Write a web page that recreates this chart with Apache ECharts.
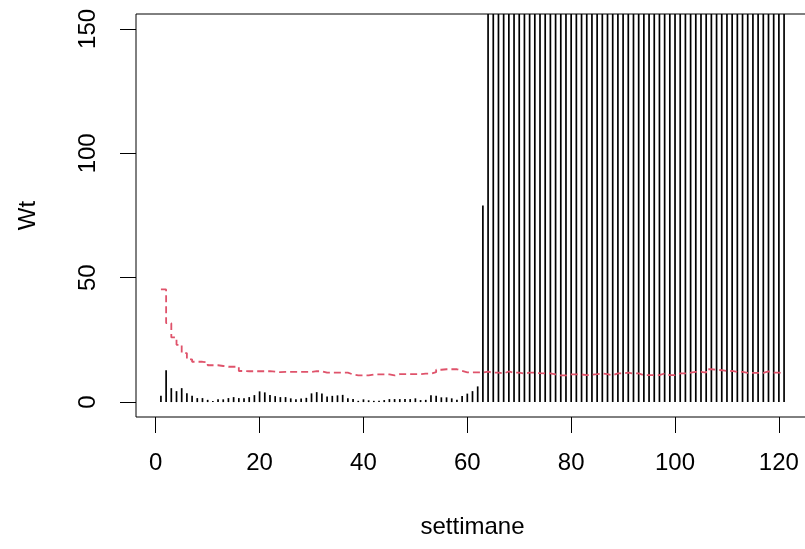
<!DOCTYPE html>
<html>
<head>
<meta charset="utf-8">
<script src="https://cdn.jsdelivr.net/npm/echarts@6/dist/echarts.min.js"></script>
<style>html,body{margin:0;padding:0;background:#fff;}#c{width:805px;height:549px;}</style>
</head>
<body>
<div id="c"></div>
<script>
// x positions: weeks 1..121
var weeks = [];
for (var k = 1; k <= 121; k++) weeks.push(k);

// Wt values (weeks 1..63; 64..121 run off the top of the plot)
var wt = [
  2.5, 12.8, 5.6, 4.4, 5.6, 3.5, 2.5, 1.6, 1.6, 0.9,
  0.4, 1.1, 1.1, 1.6, 2.0, 1.6, 1.5, 2.0, 2.8, 4.3,
  3.9, 2.8, 2.4, 2.0, 2.0, 1.5, 1.1, 1.4, 1.7, 3.5,
  4.0, 3.4, 2.2, 2.5, 2.7, 2.9, 1.5, 1.2, 0.5, 1.1,
  0.7, 0.5, 0.5, 0.8, 1.2, 1.2, 1.2, 1.2, 1.2, 1.5,
  0.8, 0.9, 2.7, 2.5, 1.9, 1.9, 1.5, 0.9, 2.4, 3.4,
  4.4, 6.3, 79,
  400, 400, 400, 400, 400, 400, 400, 400, 400, 400,
  400, 400, 400, 400, 400, 400, 400, 400, 400, 400,
  400, 400, 400, 400, 400, 400, 400, 400, 400, 400,
  400, 400, 400, 400, 400, 400, 400, 400, 400, 400,
  400, 400, 400, 400, 400, 400, 400, 400, 400, 400,
  400, 400, 400, 400, 400, 400, 400, 400
];

// dashed red step threshold
var soglia = [
  45.3, 31.7, 26.0, 23.0, 19.7, 17.2, 16.2, 16.2, 16.0, 14.8,
  14.8, 14.5, 14.2, 14.2, 14.2, 12.5, 12.4, 12.4, 12.4, 12.4,
  12.4, 12.2, 12.0, 12.1, 12.1, 12.1, 12.1, 12.1, 12.1, 12.4,
  12.4, 11.8, 11.8, 11.8, 11.8, 11.8, 11.1, 10.7, 10.7, 10.7,
  11.1, 11.1, 11.1, 11.1, 10.7, 11.2, 11.2, 11.2, 11.2, 11.2,
  11.4, 11.4, 12.0, 13.0, 13.2, 13.2, 13.2, 12.5, 11.9, 11.9,
  11.9, 11.9, 12.2, 11.8, 11.8, 11.5, 12.3, 11.8, 11.8, 11.5,
  11.8, 11.8, 11.6, 11.5, 11.5, 11.1, 10.7, 10.7, 11.1, 11.1,
  11.1, 10.8, 11.0, 11.2, 11.5, 11.2, 10.8, 11.5, 11.5, 11.8,
  11.5, 11.5, 10.8, 10.8, 10.8, 10.8, 11.5, 10.8, 10.8, 11.5,
  11.5, 11.8, 12.1, 12.1, 11.8, 13.2, 13.0, 12.8, 12.5, 12.5,
  12.1, 12.1, 11.7, 11.7, 11.7, 11.7, 12.3, 11.8, 11.8, 11.5,
  11.5
];

var xTicks = [0, 20, 40, 60, 80, 100, 120];
var yTicks = [0, 50, 100, 150];
var xTitle = 'settimane';
var yTitle = 'Wt';

var barData = weeks.map(function (w, i) { return [w, wt[i]]; });
var lineData = weeks.map(function (w, i) { return [w, soglia[i]]; });

var FONT = 'Liberation Sans, Arial, sans-serif';
var chart = echarts.init(document.getElementById('c'), null, {renderer: 'canvas'});
chart.setOption({
  animation: false,
  backgroundColor: '#fff',
  grid: {left: 136, top: 14, width: 673, height: 403, outerBoundsMode: 'none', containLabel: false,
         show: true, borderColor: '#000', borderWidth: 1, backgroundColor: 'transparent'},
  xAxis: {
    type: 'value', min: -3.8, max: 125.8,
    name: xTitle, nameLocation: 'middle', nameGap: 98,
    nameTextStyle: {fontSize: 24, color: '#000', fontFamily: FONT},
    axisLine: {show: false, onZero: false},
    splitLine: {show: false},
    axisTick: {show: true, inside: false, customValues: xTicks, length: 16, lineStyle: {color: '#000', width: 1}},
    axisLabel: {customValues: xTicks, margin: 34, fontSize: 24, color: '#000', fontFamily: FONT, hideOverlap: false}
  },
  yAxis: {
    type: 'value', min: -6, max: 156,
    name: yTitle, nameLocation: 'middle', nameGap: 96, nameRotate: 90,
    nameTextStyle: {fontSize: 24, color: '#000', fontFamily: FONT},
    axisLine: {show: false, onZero: false},
    splitLine: {show: false},
    axisTick: {show: true, inside: false, customValues: yTicks, length: 16, lineStyle: {color: '#000', width: 1}},
    axisLabel: {customValues: yTicks, rotate: 90, margin: 36, fontSize: 24, color: '#000', fontFamily: FONT}
  },
  series: [
    {
      type: 'bar', data: barData, barWidth: 1.7, clip: true,
      itemStyle: {color: '#000'}, silent: true
    },
    {
      type: 'line', data: lineData, step: 'end', showSymbol: false, clip: true,
      lineStyle: {color: '#DF536B', width: 1.8, type: [7, 4]}, silent: true
    }
  ]
});
</script>
</body>
</html>
